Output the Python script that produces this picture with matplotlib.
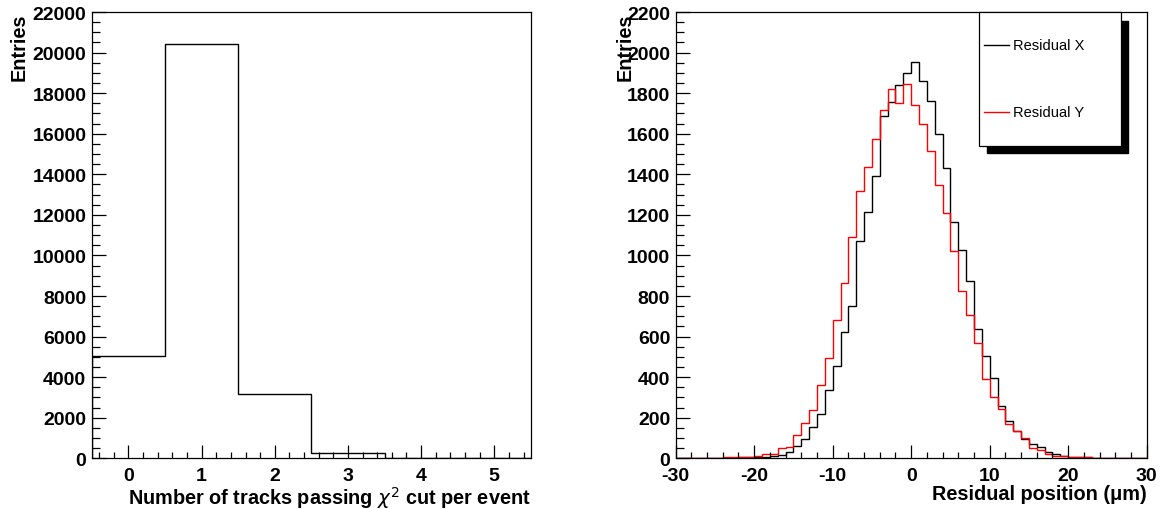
import numpy as np
import matplotlib.pyplot as plt
from matplotlib.patches import Rectangle
from matplotlib.lines import Line2D
from matplotlib.ticker import MultipleLocator

plt.rcParams['font.family'] = ['Liberation Sans', 'DejaVu Sans']
plt.rcParams['axes.unicode_minus'] = False

# Left panel: number of tracks passing chi2 cut per event
ntracks = [0, 1, 2, 3, 4, 5]
ntracks_entries = [5060, 20400, 3190, 250, 30, 5]

# Right panel: residuals, 1 um bins from -30 to 30
res_edges = np.arange(-30, 31)
residual_x = [0, 1, 1, 1, 2, 2, 3, 3, 4, 5,
              6, 8, 10, 16, 30, 62, 95, 153, 220, 339,
              454, 625, 753, 1073, 1213, 1393, 1685, 1756, 1842, 1901,
              1953, 1860, 1761, 1597, 1432, 1164, 1029, 876, 638, 506,
              396, 260, 186, 136, 95, 71, 54, 30, 21, 10,
              7, 5, 4, 3, 2, 2, 1, 1, 1, 0]
residual_y = [1, 1, 2, 2, 3, 3, 4, 4, 6, 8,
              13, 21, 21, 50, 55, 116, 176, 237, 363, 495,
              684, 865, 1090, 1320, 1436, 1575, 1715, 1819, 1751, 1843,
              1740, 1649, 1514, 1345, 1210, 1021, 824, 704, 567, 391,
              301, 243, 169, 136, 99, 49, 42, 21, 13, 10,
              6, 5, 4, 3, 3, 2, 2, 1, 1, 1]

fig = plt.figure(figsize=(11.67, 5.10), dpi=100)
ax1 = fig.add_axes([0.0787, 0.0994, 0.3762, 0.8751])
ax2 = fig.add_axes([0.5790, 0.0994, 0.4036, 0.8751])

label_font = dict(fontsize=14.3, fontweight='bold')


def root_style(ax, xmaj, xmin, ymaj, ymin):
    for s in ax.spines.values():
        s.set_linewidth(0.9)
    ax.xaxis.set_major_locator(MultipleLocator(xmaj))
    ax.xaxis.set_minor_locator(MultipleLocator(xmin))
    ax.yaxis.set_major_locator(MultipleLocator(ymaj))
    ax.yaxis.set_minor_locator(MultipleLocator(ymin))
    ax.tick_params(axis='x', which='major', direction='in', length=9.5, width=0.9, pad=6)
    ax.tick_params(axis='x', which='minor', direction='in', length=4.5, width=0.9)
    ax.tick_params(axis='y', which='major', direction='in', length=10, width=0.9, pad=4)
    ax.tick_params(axis='y', which='minor', direction='in', length=5.5, width=0.9)
    for lab in ax.get_xticklabels() + ax.get_yticklabels():
        lab.set_fontsize(14)
        lab.set_fontweight('bold')


# left histogram
edges1 = np.append(np.array(ntracks) - 0.5, ntracks[-1] + 0.5)
ax1.stairs(ntracks_entries, edges1, color='black', linewidth=1.0)
ax1.set_xlim(-0.5, 5.5)
ax1.set_ylim(0, 22000)
root_style(ax1, 1, 0.2, 2000, 500)
ax1.set_xlabel(r'Number of tracks passing $\chi^2$ cut per event', loc='right', **label_font)
ax1.xaxis.set_label_coords(1.0, -0.058)
ax1.set_ylabel('Entries', loc='top', **label_font)
ax1.yaxis.set_label_coords(-0.145, 1.0)

# right histograms
hx = ax2.stairs(residual_x, res_edges, color='black', linewidth=1.0)
hy = ax2.stairs(residual_y, res_edges, color='#ff0000', linewidth=1.0)
ax2.set_xlim(-30, 30)
ax2.set_ylim(0, 2200)
root_style(ax2, 10, 2, 200, 50)
ax2.set_xlabel('Residual position (μm)', loc='right', **label_font)
ax2.xaxis.set_label_coords(1.0, -0.058)
ax2.set_ylabel('Entries', loc='top', **label_font)
ax2.yaxis.set_label_coords(-0.088, 1.0)

# ROOT-like legend with a solid shadow
tr = ax2.transAxes
ax2.add_patch(Rectangle((0.662, 0.685), 0.299, 0.295, transform=tr,
                        facecolor='black', edgecolor='black', zorder=5, clip_on=False))
ax2.add_patch(Rectangle((0.643, 0.699), 0.303, 0.301, transform=tr,
                        facecolor='white', edgecolor='black', linewidth=0.9,
                        zorder=6, clip_on=False))
for yy, h, name in [(0.926, hx, 'Residual X'), (0.776, hy, 'Residual Y')]:
    ax2.add_line(Line2D([0.655, 0.708], [yy, yy], transform=tr,
                        color=h.get_edgecolor(), linewidth=1.0, zorder=7))
    ax2.text(0.717, yy, name, transform=tr, fontsize=10.5, va='center',
             ha='left', zorder=7)

fig.savefig('out.png', dpi=100)
